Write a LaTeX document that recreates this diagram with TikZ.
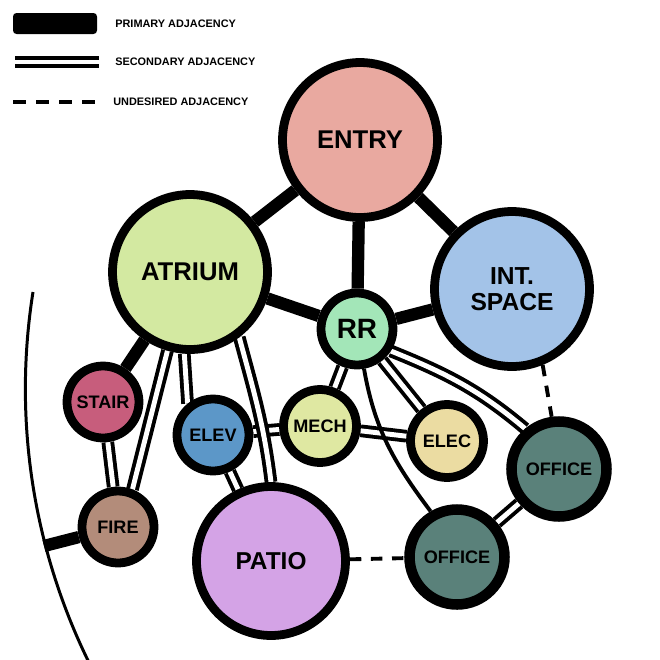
\documentclass[tikz,border=0pt]{standalone}
\usepackage{fontspec}
\setmainfont{Liberation Sans}
\usetikzlibrary{backgrounds}
\definecolor{entryfill}{HTML}{E9A9A0}
\definecolor{atriumfill}{HTML}{D3E9A1}
\definecolor{intfill}{HTML}{A3C3E8}
\definecolor{rrfill}{HTML}{A3E6B8}
\definecolor{stairfill}{HTML}{C75D7C}
\definecolor{elevfill}{HTML}{5C97C8}
\definecolor{mechfill}{HTML}{DFE8A2}
\definecolor{elecfill}{HTML}{EBDCA2}
\definecolor{officefill}{HTML}{5A817A}
\definecolor{firefill}{HTML}{B38C7A}
\definecolor{patiofill}{HTML}{D4A3E6}
\tikzset{
  room/.style={
    draw, circle, line width=5pt, inner sep=0pt, align=center
  },
  bigroom/.style={
    room, minimum size=3.1cm, font=\fontsize{14.6}{15}\selectfont\bfseries
  },
  smallroom/.style={
    room, minimum size=1.44cm, font=\fontsize{10.3}{11}\selectfont\bfseries
  },
  office/.style={
    smallroom, line width=6pt, minimum size=1.9cm, fill=officefill
  },
  primary/.style={line width=7pt},
  secondary/.style={line width=2.2pt, double=white, double distance=2.8pt},
  undesired/.style={line width=2.2pt, dash pattern=on 6.5pt off 5.5pt},
  keytext/.style={
    anchor=west, inner sep=0pt, font=\fontsize{6.2}{7}\selectfont\bfseries
  },
}
\begin{document}
\begin{tikzpicture}[x=0.02cm, y=-0.02cm]
  \useasboundingbox (0,0) rectangle (660,660);

  \coordinate (k1a) at (13,13);
  \coordinate (k1b) at (97,34);
  \coordinate (k2a) at (15,62);
  \coordinate (k2b) at (99,62);
  \coordinate (k3a) at (13,102);
  \coordinate (k3b) at (97,102);
  \fill[rounded corners=2pt] (k1a) rectangle (k1b);
  \draw[secondary] (k2a) -- (k2b);
  \draw[line width=2.3pt, dash pattern=on 7.4pt off 5.7pt] (k3a) -- (k3b);
  \node[keytext] (kprimary) at (115,24) {PRIMARY ADJACENCY};
  \node[keytext] (ksecondary) at (115,62) {SECONDARY ADJACENCY};
  \node[keytext] (kundesired) at (113,102) {UNDESIRED ADJACENCY};

  \node[bigroom, fill=entryfill] (entry) at (360,140) {ENTRY};
  \node[bigroom, fill=atriumfill] (atrium) at (190,272) {ATRIUM};
  \node[bigroom, fill=intfill, font=\fontsize{14}{14.7}\selectfont\bfseries] (int) at (512,289) {INT.\\SPACE};
  \node[bigroom, fill=patiofill, minimum size=2.98cm, font=\fontsize{13.9}{14}\selectfont\bfseries] (patio) at (271,561) {PATIO};
  \node[smallroom, fill=rrfill, font=\fontsize{15.9}{16}\selectfont\bfseries] (rr) at (357,329) {RR};
  \node[smallroom, fill=stairfill] (stair) at (103,402) {STAIR};
  \node[smallroom, fill=elevfill] (elev) at (213,435) {ELEV};
  \node[smallroom, fill=mechfill, minimum size=1.46cm] (mech) at (320,426) {MECH};
  \node[smallroom, fill=elecfill, minimum size=1.46cm] (elec) at (447,441) {ELEC};
  \node[smallroom, fill=firefill] (fire) at (118,527) {FIRE};
  \node[office] (office1) at (559,469) {OFFICE};
  \node[office] (office2) at (457,557) {OFFICE};

  \coordinate (walltop) at (33,292);
  \coordinate (exit) at (44,546);
  \draw[line width=1.7pt] (walltop) arc[start angle=171, end angle=206, radius=12.4cm];

  \begin{scope}[on background layer]
    \draw[primary] (entry) -- (atrium);
    \draw[primary] (entry) -- (rr);
    \draw[primary] (entry) -- (int);
    \draw[primary] (atrium) -- (rr);
    \draw[primary] (rr) -- (int);
    \draw[primary] (atrium) -- (stair);
    \draw[primary] (fire) -- (exit);
    \draw[secondary] (stair) -- (fire);
    \draw[secondary] (atrium.-106) -- (fire.69);
    \draw[secondary] (atrium.-94) -- (elev.129);
    \draw[secondary] (elev) -- (mech);
    \draw[secondary] (elev) -- (patio);
    \draw[secondary] (atrium.-53) to[out=-75, in=97] (patio.90);
    \draw[secondary] (rr) -- (mech);
    \draw[secondary] (rr) -- (elec);
    \draw[secondary] (mech) -- (elec);
    \draw[secondary] (rr.-33) to[out=-22, in=140] (office1.130);
    \draw[secondary] (office1) -- (office2);
    \draw[line width=2.2pt] (rr.-80) to[out=-80, in=127] (office2.120);
    \draw[undesired] (int.-68) -- (office1.98);
    \draw[undesired] (patio) -- (office2);
  \end{scope}
\end{tikzpicture}
\end{document}
